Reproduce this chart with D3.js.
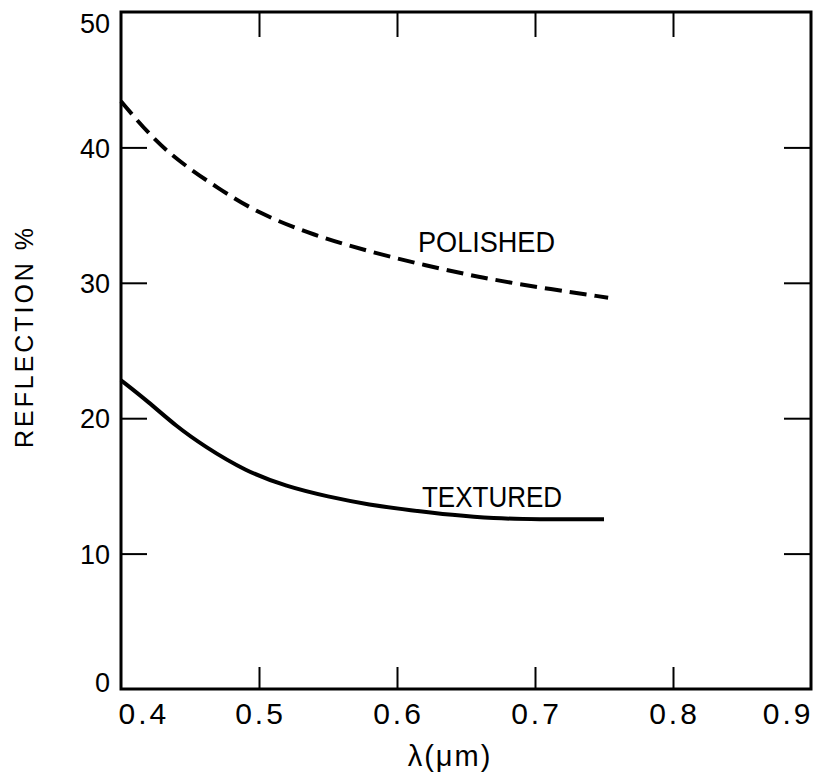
<!DOCTYPE html>
<html>
<head>
<meta charset="utf-8">
<script src="https://cdn.jsdelivr.net/npm/d3@7"></script>
<style>
  html, body { margin: 0; padding: 0; background: #fff; }
  svg { display: block; }
  text { fill: #000; font-family: "Liberation Sans", Arial, sans-serif; }
</style>
</head>
<body>
<svg id="chart" width="814" height="781"></svg>
<script>
// ---- data ----
const xTicks = [0.4, 0.5, 0.6, 0.7, 0.8, 0.9];
const yTicks = [0, 10, 20, 30, 40, 50];
const polishedX = [0.400, 0.420, 0.440, 0.470, 0.500, 0.540, 0.580, 0.620, 0.660, 0.700, 0.753];
const polishedY = [43.4, 41.0, 39.1, 37.0, 35.1, 33.5, 32.3, 31.3, 30.4, 29.7, 28.9];
const texturedX = [0.400, 0.420, 0.440, 0.460, 0.490, 0.520, 0.550, 0.580, 0.610, 0.640, 0.670, 0.700, 0.750];
const texturedY = [22.8, 21.2, 19.4, 17.95, 16.1, 14.95, 14.2, 13.6, 13.2, 12.85, 12.6, 12.53, 12.53];
const seriesNames = ["POLISHED", "TEXTURED"];
const yTitle = "REFLECTION %";
const xTitle = "λ(μm)";

const svg = d3.select("#chart");
const L = 121, R = 811, T = 12, B = 689;

const x = d3.scaleLinear().domain([0.4, 0.9]).range([L, R]);
const y = d3.scaleLinear().domain([0, 50]).range([B, T]);

// frame
svg.append("rect")
  .attr("x", L).attr("y", T).attr("width", R - L).attr("height", B - T)
  .attr("fill", "none").attr("stroke", "#000").attr("stroke-width", 3);

// inner ticks
const inner = [10, 20, 30, 40];
const innerX = [0.5, 0.6, 0.7, 0.8];
function tickStyle(g) {
  g.select(".domain").remove();
  g.selectAll(".tick line").attr("stroke", "#000").attr("stroke-width", 2);
  g.selectAll(".tick text").remove();
}
svg.append("g").attr("transform", `translate(${L},0)`)
  .call(d3.axisLeft(y).tickValues(inner).tickSize(-26)).call(tickStyle);
svg.append("g").attr("transform", `translate(${R},0)`)
  .call(d3.axisRight(y).tickValues(inner).tickSize(-27)).call(tickStyle);
svg.append("g").attr("transform", `translate(0,${B})`)
  .call(d3.axisBottom(x).tickValues(innerX).tickSize(-22)).call(tickStyle);
svg.append("g").attr("transform", `translate(0,${T})`)
  .call(d3.axisTop(x).tickValues(innerX).tickSize(-25)).call(tickStyle);

// y tick labels
const yAx = svg.append("g").attr("transform", `translate(${L},0)`)
  .call(d3.axisLeft(y).tickValues(yTicks).tickSize(0).tickPadding(11).tickFormat(d3.format("d")));
yAx.select(".domain").remove();
yAx.selectAll(".tick text")
  .attr("font-size", 27).attr("font-family", "Liberation Sans, Arial, sans-serif")
  .attr("fill", "#000")
  .attr("dy", d => d === 50 ? "0.75em" : (d === 0 ? "0.1em" : "0.36em"));

// x tick labels
const xAx = svg.append("g").attr("transform", `translate(0,${B})`)
  .call(d3.axisBottom(x).tickValues(xTicks).tickSize(0).tickPadding(0).tickFormat(d3.format(".1f")));
xAx.select(".domain").remove();
xAx.selectAll(".tick text")
  .attr("font-size", 30).attr("font-family", "Liberation Sans, Arial, sans-serif")
  .attr("letter-spacing", "3px")
  .attr("fill", "#000").attr("y", 35).attr("dy", 0)
  .attr("text-anchor", d => d === 0.4 ? "start" : (d === 0.9 ? "end" : "middle"))
  .attr("dx", d => d === 0.4 ? -3 : (d === 0.9 ? 2 : 1));

// curves
const line = d3.line().x(d => x(d[0])).y(d => y(d[1])).curve(d3.curveBasis);
const polished = polishedX.map((v, i) => [v, polishedY[i]]);
const textured = texturedX.map((v, i) => [v, texturedY[i]]);

svg.append("path").attr("d", line(polished))
  .attr("fill", "none").attr("stroke", "#000").attr("stroke-width", 4)
  .attr("stroke-dasharray", "17,8");
svg.append("path").attr("d", line(textured))
  .attr("fill", "none").attr("stroke", "#000").attr("stroke-width", 4)
  .attr("stroke-linecap", "butt");

// series labels
svg.append("text").attr("x", 418).attr("y", 252)
  .attr("font-size", 30).attr("textLength", 137).attr("lengthAdjust", "spacingAndGlyphs")
  .text(seriesNames[0]);
svg.append("text").attr("x", 422).attr("y", 507)
  .attr("font-size", 30).attr("textLength", 140).attr("lengthAdjust", "spacingAndGlyphs")
  .text(seriesNames[1]);

// axis titles
svg.append("text")
  .attr("transform", `translate(33,338) rotate(-90)`)
  .attr("text-anchor", "middle").attr("font-size", 25)
  .attr("textLength", 220).attr("lengthAdjust", "spacing")
  .text(yTitle);
svg.append("text")
  .attr("x", 450).attr("y", 766).attr("text-anchor", "middle")
  .attr("font-size", 29).attr("letter-spacing", "2px")
  .text(xTitle);
</script>
</body>
</html>
